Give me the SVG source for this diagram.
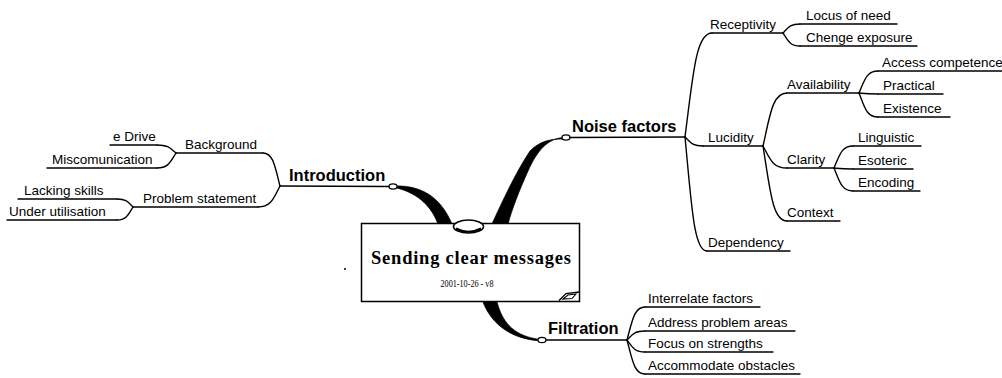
<svg xmlns="http://www.w3.org/2000/svg" width="1002" height="378" viewBox="0 0 1002 378">
  <style>
    .ln { fill: none; stroke: #000; stroke-width: 1.4; stroke-linecap: round; }
    .t { font-family: "Liberation Sans", Arial, sans-serif; font-size: 13.5px; fill: #000; }
    .tb { font-family: "Liberation Sans", Arial, sans-serif; font-size: 16.5px; font-weight: bold; fill: #000; }
    .knob { fill: #fff; stroke: #000; stroke-width: 1.2; }
    .trunk { fill: #000; stroke: #000; stroke-width: 0.8; stroke-linejoin: round; }
  </style>
  <rect width="1002" height="378" fill="#fff"/>

  <!-- connectors: tapered trunks from the central topic and thin branch curves -->
  <g id="connectors">
    <path class="trunk" d="M397,186 C421,186 440,196 452,224 L438,224 C432,208 420,194 397,188 Z"/>
    <path class="trunk" d="M563,137.5 C547,139 537,151 528,171 C519,191 512,209 508,224 L492,224 C502,202 516,172 530,151 C540,141 550,139 563,139 Z"/>
    <path class="trunk" d="M483,302 C490,320 506,338 539,340.8 L539,339.4 C516,336 503,325 497,302 Z"/>

    <!-- left side -->
    <path class="ln" d="M280,186 C274.9,166.2 273.2,153 263,153"/>
    <path class="ln" d="M280,186 C273.4,198.6 271.2,207 258,207"/>
    <path class="ln" d="M176,153 C170.3,148.2 168.4,145 157,145"/>
    <path class="ln" d="M176,153 C170.3,162 168.4,168 157,168"/>
    <path class="ln" d="M133,207 C128.2,202.2 126.6,199 117,199"/>
    <path class="ln" d="M133,207 C128.2,214.8 126.6,220 117,220"/>

    <!-- right side: noise factors -->
    <path class="ln" d="M685,137 C693.1,74.6 695.8,33 712,33"/>
    <path class="ln" d="M685,137 C690.4,142.4 692.2,146 703,146"/>
    <path class="ln" d="M685,137 C691.6,205.4 693.8,251 707,251"/>
    <path class="ln" d="M783,33 C788.1,27.6 789.8,24 800,24"/>
    <path class="ln" d="M783,33 C788.1,40.8 789.8,46 800,46"/>
    <path class="ln" d="M763,146 C770.2,114.2 772.6,93 787,93"/>
    <path class="ln" d="M763,146 C770.2,159.2 772.6,168 787,168"/>
    <path class="ln" d="M763,146 C770.2,191 772.6,221 787,221"/>
    <path class="ln" d="M859,93 C864.7,79.8 866.6,71 878,71"/>
    <path class="ln" d="M859,93 C864.7,93.6 866.6,94 878,94"/>
    <path class="ln" d="M859,93 C864.7,107.4 866.6,117 878,117"/>
    <path class="ln" d="M834,168 C839.7,154.8 841.6,146 853,146"/>
    <path class="ln" d="M834,168 C839.7,168.6 841.6,169 853,169"/>
    <path class="ln" d="M834,168 C839.7,181.8 841.6,191 853,191"/>

    <!-- right side: filtration -->
    <path class="ln" d="M627,340 C632.4,320.2 634.2,307 645,307"/>
    <path class="ln" d="M627,340 C632.4,334.6 634.2,331 645,331"/>
    <path class="ln" d="M627,340 C632.4,347.2 634.2,352 645,352"/>
    <path class="ln" d="M627,340 C632.4,360.4 634.2,374 645,374"/>

    <!-- attachment knobs -->
    <ellipse class="knob" cx="393" cy="186.5" rx="4" ry="2.6"/>
    <ellipse class="knob" cx="566" cy="137.5" rx="4" ry="2.6"/>
    <ellipse class="knob" cx="542" cy="340" rx="4" ry="2.6"/>
  </g>

  <!-- central topic -->
  <g id="central">
    <rect x="361.5" y="223.5" width="218" height="78" fill="#fff" stroke="#000" stroke-width="1.5"/>
    <ellipse cx="468.5" cy="226.5" rx="15" ry="6.5" fill="#fff" stroke="#000" stroke-width="1.6"/>
    <path d="M456,228.5 Q468.5,235 481,228.5" fill="none" stroke="#000" stroke-width="2"/>
    <text x="471" y="263.5" text-anchor="middle" textLength="200" lengthAdjust="spacing" font-family="'Liberation Serif', 'Times New Roman', serif" font-size="18.5" font-weight="bold">Sending clear messages</text>
    <text x="467" y="287" text-anchor="middle" textLength="53" lengthAdjust="spacingAndGlyphs" font-family="'Liberation Serif', 'Times New Roman', serif" font-size="9.5">2001-10-26 - v8</text>
    <path d="M559,300.5 L566,293.5 L579,292" fill="none" stroke="#000" stroke-width="1.3"/>
    <path d="M563,299 L568,295 L576,294 L572,298.5 Z" fill="none" stroke="#000" stroke-width="1.1"/>
  </g>
  <circle cx="345" cy="269" r="1" fill="#000"/>

  <!-- left branches -->
  <g id="introduction">
    <path class="ln" d="M280,186 L389,186.5"/>
    <text class="tb" x="289" y="181">Introduction</text>
  </g>
  <g id="background">
    <path class="ln" d="M263,153 L176,153"/>
    <text class="t" x="185" y="149">Background</text>
  </g>
  <g id="problem-statement">
    <path class="ln" d="M258,207 L133,207"/>
    <text class="t" x="143" y="203">Problem statement</text>
  </g>
  <g id="e-drive">
    <path class="ln" d="M157,145 L110,145"/>
    <text class="t" x="113" y="141">e Drive</text>
  </g>
  <g id="miscomunication">
    <path class="ln" d="M157,168 L47,168"/>
    <text class="t" x="52" y="164">Miscomunication</text>
  </g>
  <g id="lacking-skills">
    <path class="ln" d="M117,199 L18,199"/>
    <text class="t" x="24" y="195">Lacking skills</text>
  </g>
  <g id="under-utilisation">
    <path class="ln" d="M117,220 L7,220"/>
    <text class="t" x="9" y="216">Under utilisation</text>
  </g>

  <!-- noise factors branch -->
  <g id="noise-factors">
    <path class="ln" d="M570,137.5 L685,137"/>
    <text class="tb" x="572" y="132">Noise factors</text>
  </g>
  <g id="receptivity">
    <path class="ln" d="M712,33 L783,33"/>
    <text class="t" x="710" y="29">Receptivity</text>
  </g>
  <g id="locus-of-need">
    <path class="ln" d="M800,24 L897,24"/>
    <text class="t" x="806" y="20">Locus of need</text>
  </g>
  <g id="chenge-exposure">
    <path class="ln" d="M800,46 L917,46"/>
    <text class="t" x="806" y="42">Chenge exposure</text>
  </g>
  <g id="lucidity">
    <path class="ln" d="M703,146 L763,146"/>
    <text class="t" x="708" y="142">Lucidity</text>
  </g>
  <g id="availability">
    <path class="ln" d="M787,93 L859,93"/>
    <text class="t" x="787" y="89">Availability</text>
  </g>
  <g id="access-competence">
    <path class="ln" d="M878,71 L1004,71"/>
    <text class="t" x="882" y="67">Access competence</text>
  </g>
  <g id="practical">
    <path class="ln" d="M878,94 L943,94"/>
    <text class="t" x="883" y="90">Practical</text>
  </g>
  <g id="existence">
    <path class="ln" d="M878,117 L950,117"/>
    <text class="t" x="883" y="113">Existence</text>
  </g>
  <g id="clarity">
    <path class="ln" d="M787,168 L834,168"/>
    <text class="t" x="787" y="164">Clarity</text>
  </g>
  <g id="linguistic">
    <path class="ln" d="M853,146 L921,146"/>
    <text class="t" x="858" y="142">Linguistic</text>
  </g>
  <g id="esoteric">
    <path class="ln" d="M853,169 L913,169"/>
    <text class="t" x="858" y="165">Esoteric</text>
  </g>
  <g id="encoding">
    <path class="ln" d="M853,191 L920,191"/>
    <text class="t" x="858" y="187">Encoding</text>
  </g>
  <g id="context">
    <path class="ln" d="M787,221 L840,221"/>
    <text class="t" x="787" y="217">Context</text>
  </g>
  <g id="dependency">
    <path class="ln" d="M707,251 L790,251"/>
    <text class="t" x="708" y="247">Dependency</text>
  </g>

  <!-- filtration branch -->
  <g id="filtration">
    <path class="ln" d="M546,340 L627,340"/>
    <text class="tb" x="548" y="334">Filtration</text>
  </g>
  <g id="interrelate-factors">
    <path class="ln" d="M645,307 L760,307"/>
    <text class="t" x="648" y="303">Interrelate factors</text>
  </g>
  <g id="address-problem-areas">
    <path class="ln" d="M645,331 L795,331"/>
    <text class="t" x="648" y="327">Address problem areas</text>
  </g>
  <g id="focus-on-strengths">
    <path class="ln" d="M645,352 L773,352"/>
    <text class="t" x="648" y="348">Focus on strengths</text>
  </g>
  <g id="accommodate-obstacles">
    <path class="ln" d="M645,374 L800,374"/>
    <text class="t" x="648" y="370">Accommodate obstacles</text>
  </g>
</svg>
